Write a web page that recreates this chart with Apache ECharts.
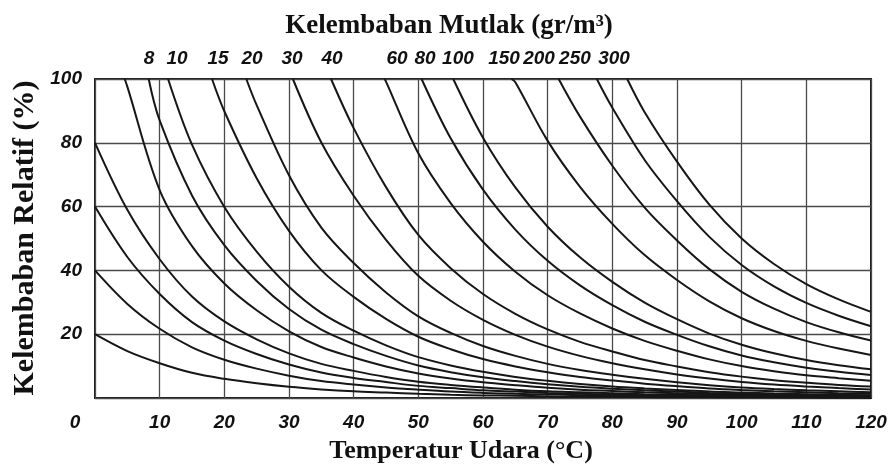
<!DOCTYPE html>
<html><head><meta charset="utf-8">
<script src="https://cdn.jsdelivr.net/npm/echarts@6/dist/echarts.min.js"></script>
<style>html,body{margin:0;padding:0;background:#fff}#c{width:895px;height:466px}</style>
</head><body><div id="c"></div>
<script>
// Temperature samples (°C) shared by every curve
const temps = [0,5,10,15,20,25,30,35,40,45,50,55,60,65,70,75,80,85,90,95,100,105,110,115,120];

// Absolute-humidity curves (g/m³) and the temperature where each leaves the 100 % line
const curveNames = ['1','2','3','4','6','8','10','15','20','30','40','60','80','100','150','200','250','300'];
const curveTops  = [null,null,null,null,4.6,8.3,11.3,18.1,23.4,30.6,36.5,44.8,50.5,55.4,64.4,71.7,77.6,82.3];

// Relative humidity (%) at the sample temperatures (null = above 100 %)
const rh_1   = [20.0,14.7,10.9,7.9,6.0,4.6,3.5,2.7,2.1,1.7,1.3,1.0,0.8,0.7,0.5,0.4,0.4,0.3,0.25,0.2,0.17,0.14,0.12,0.1,0.09];
const rh_2   = [40,29.5,21.7,15.9,12.0,9.2,7.0,5.3,4.2,3.3,2.6,2.0,1.6,1.3,1.1,0.9,0.7,0.6,0.5,0.4,0.33,0.28,0.24,0.21,0.18];
const rh_3   = [60,44.2,32.6,23.8,18.0,13.8,10.5,8.0,6.3,5.0,3.8,3.1,2.4,2.0,1.6,1.3,1.1,0.9,0.74,0.61,0.5,0.42,0.36,0.31,0.27];
const rh_4   = [80,59.0,43.5,31.8,24.0,18.4,14.0,10.7,8.5,6.6,5.1,4.1,3.3,2.6,2.1,1.8,1.5,1.2,1.0,0.8,0.67,0.56,0.48,0.41,0.36];
const rh_6   = [null,97.6,65.2,47.6,35.9,27.5,20.9,16.0,12.7,9.9,7.7,6.1,4.9,4.0,3.2,2.6,2.2,1.8,1.5,1.2,1.0,0.84,0.71,0.62,0.54];
const rh_8   = [null,null,87.0,63.5,47.9,36.7,27.9,21.4,16.9,13.2,10.2,8.1,6.5,5.3,4.3,3.5,2.9,2.4,2.0,1.6,1.3,1.1,0.95,0.82,0.72];
const rh_10  = [null,null,null,79.4,59.9,45.9,34.9,26.7,21.1,16.5,12.8,10.2,8.2,6.6,5.4,4.4,3.6,3.0,2.5,2.0,1.7,1.4,1.2,1.0,0.9];
const rh_15  = [null,null,null,null,89.9,68.9,52.4,40.1,31.7,24.8,19.2,15.3,12.2,9.9,8.1,6.6,5.5,4.5,3.7,3.0,2.5,2.1,1.8,1.5,1.35];
const rh_20  = [null,null,null,null,null,91.8,69.8,53.4,42.3,33.1,25.6,20.4,16.3,13.2,10.7,8.8,7.3,6.0,4.9,4.0,3.3,2.8,2.4,2.1,1.8];
const rh_30  = [null,null,null,null,null,null,null,80.1,63.4,49.6,38.3,30.5,24.5,19.8,16.1,13.2,10.9,9.0,7.4,6.1,5.0,4.2,3.6,3.1,2.7];
const rh_40  = [null,null,null,null,null,null,null,null,84.6,66.1,51.1,40.7,32.6,26.4,21.5,17.6,14.6,11.9,9.9,8.1,6.7,5.6,4.8,4.1,3.6];
const rh_60  = [null,null,null,null,null,null,null,null,null,99.2,76.7,61.1,49.0,39.6,32.2,26.5,21.8,17.9,14.8,12.1,10.0,8.4,7.1,6.2,5.4];
const rh_80  = [null,null,null,null,null,null,null,null,null,null,null,81.4,65.3,52.8,43.0,35.3,29.1,23.9,19.8,16.2,13.3,11.2,9.5,8.2,7.2];
const rh_100 = [null,null,null,null,null,null,null,null,null,null,null,null,81.6,66.0,53.7,44.1,36.4,29.9,24.7,20.2,16.7,14.0,11.9,10.3,9.0];
const rh_150 = [null,null,null,null,null,null,null,null,null,null,null,null,null,99.0,80.6,66.2,54.6,44.8,37.0,30.3,25.0,21.0,17.9,15.5,13.5];
const rh_200 = [null,null,null,null,null,null,null,null,null,null,null,null,null,null,null,88.2,72.8,59.7,49.4,40.4,33.3,28.0,23.8,20.6,18.0];
const rh_250 = [null,null,null,null,null,null,null,null,null,null,null,null,null,null,null,null,91.0,74.6,61.7,50.5,41.7,35.0,29.8,25.8,22.5];
const rh_300 = [null,null,null,null,null,null,null,null,null,null,null,null,null,null,null,null,null,89.6,74.1,60.6,50.0,42.0,35.7,30.9,27.0];
const rhCurves = [rh_1,rh_2,rh_3,rh_4,rh_6,rh_8,rh_10,rh_15,rh_20,rh_30,rh_40,rh_60,rh_80,rh_100,rh_150,rh_200,rh_250,rh_300];

// Top scale: absolute humidity labels and the temperatures they sit over
const absLabels     = ['8','10','15','20','30','40','60','80','100','150','200','250','300'];
const absLabelTemps = [8.35,12.68,19.02,24.28,30.46,36.65,46.70,51.03,56.13,63.25,68.66,74.22,80.26];

const titleTop = 'Kelembaban Mutlak (gr/m³)';
const titleX = 'Temperatur Udara (°C)';
const titleY = 'Kelembaban Relatif (%)';

const tickFont = {fontFamily:'Liberation Sans', fontStyle:'italic', fontWeight:'bold', fontSize:19, color:'#111'};

const series = rhCurves.map((arr, k) => {
  const data = [];
  if (curveTops[k] !== null) data.push([curveTops[k], 100]);
  arr.forEach((v, i) => { if (v !== null) data.push([temps[i], v]); });
  return {
    name: curveNames[k], type:'line', data, showSymbol:false, smooth:0.35,
    lineStyle:{color:'#161616', width:2}, silent:true, clip:true, xAxisIndex:0, yAxisIndex:0
  };
});

const chart = echarts.init(document.getElementById('c'), null, {renderer:'canvas'});
chart.setOption({
  animation:false,
  backgroundColor:'#ffffff',
  grid:{left:95, right:24, top:79, bottom:68, show:true, borderColor:'#1a1a1a', borderWidth:2, backgroundColor:'transparent'},
  xAxis:[{
    type:'value', min:0, max:120, interval:10, position:'bottom',
    axisLine:{show:false}, axisTick:{show:false},
    splitLine:{show:true, lineStyle:{color:'#4a4a4a', width:1.3}},
    axisLabel:Object.assign({}, tickFont, {margin:15,
      formatter:v => v === 0 ? '{z|0}' : String(v),
      rich:{z:Object.assign({}, tickFont, {padding:[0,40,0,0]})}})
  },{
    type:'value', min:0, max:120, position:'top',
    axisLine:{show:false}, axisTick:{show:false}, splitLine:{show:false},
    axisLabel:Object.assign({}, tickFont, {margin:11, showMinLabel:true, showMaxLabel:true,
      customValues:absLabelTemps,
      formatter:v => {
        let best = 0;
        absLabelTemps.forEach((t, i) => { if (Math.abs(t - v) < Math.abs(absLabelTemps[best] - v)) best = i; });
        return absLabels[best];
      }})
  }],
  yAxis:{
    type:'value', min:0, max:100, interval:20,
    axisLine:{show:false}, axisTick:{show:false},
    splitLine:{show:true, lineStyle:{color:'#4a4a4a', width:1.3}},
    axisLabel:Object.assign({}, tickFont, {margin:13, formatter:v => v === 0 ? '' : String(v)})
  },
  graphic:[
    {type:'text', x:449, y:26, style:{text:titleTop, font:'bold 27px "Liberation Serif"', fill:'#111', align:'center', verticalAlign:'middle'}},
    {type:'text', x:461, y:451, style:{text:titleX, font:'bold 26px "Liberation Serif"', fill:'#111', align:'center', verticalAlign:'middle'}},
    {type:'text', x:25, y:238, rotation:Math.PI/2, style:{text:titleY, font:'bold 30px "Liberation Serif"', fill:'#111', align:'center', verticalAlign:'middle'}}
  ],
  series
});
</script>
</body></html>
